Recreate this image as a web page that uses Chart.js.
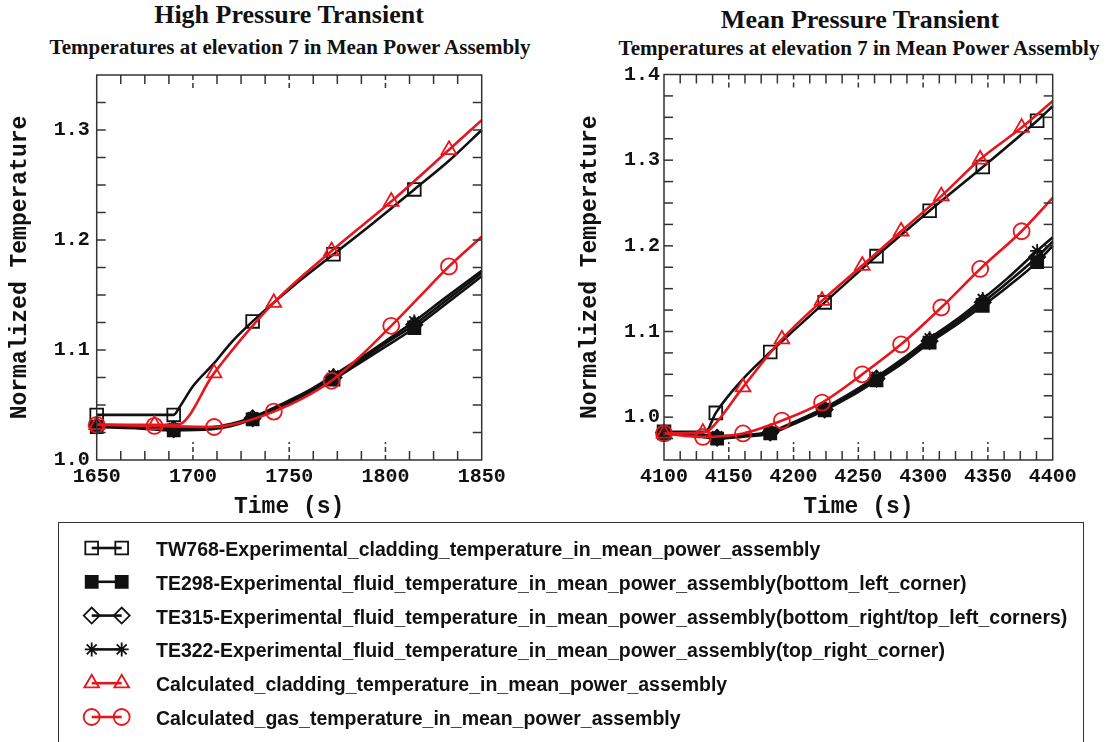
<!DOCTYPE html>
<html>
<head>
<meta charset="utf-8">
<script src="https://cdn.jsdelivr.net/npm/chart.js@4.4.1/dist/chart.umd.min.js"></script>
<style>
  body { margin: 0; background: #fff; width: 1116px; height: 742px; overflow: hidden; position: relative; }
  canvas { position: absolute; top: 0; }
  .ttl { position: absolute; font-family: "Liberation Serif", "Times New Roman", serif; font-weight: bold; color: #111; white-space: nowrap; transform: translate(-50%, -50%); }
  .big { font-size: 26px; }
  .sub { font-size: 21px; }
  #legend { position: absolute; left: 58px; top: 522px; width: 1026px; height: 240px; border: 1.5px solid #333; box-sizing: border-box; }
  .item { position: absolute; font: bold 19.5px "Liberation Sans", Arial, sans-serif; color: #111; white-space: nowrap; transform: translateY(-50%); }
</style>
</head>
<body>
<div class="ttl big" style="left:289px;top:15px">High Pressure Transient</div>
<div class="ttl sub" style="left:290px;top:47px">Temperatures at elevation 7 in Mean Power Assembly</div>
<div class="ttl big" style="left:860px;top:20px">Mean Pressure Transient</div>
<div class="ttl sub" style="left:859px;top:48px">Temperatures at elevation 7 in Mean Power Assembly</div>

<canvas id="hp" width="560" height="530" style="left:0"></canvas>
<canvas id="mp" width="556" height="530" style="left:560px"></canvas>
<div id="legend"></div>
<canvas id="legIcons" width="120" height="220" style="left:40px;top:522px"></canvas>

<script>
// ---- High pressure transient (left) ----
var hpTW768T = [1650, 1690, 1693, 1700, 1711, 1720, 1731, 1752, 1773, 1794, 1815, 1833, 1850];
var hpTW768V = [1.041, 1.041, 1.048, 1.067, 1.088, 1.107, 1.126, 1.158, 1.187, 1.216, 1.246, 1.272, 1.300];
var hpTW768Marks = [1650, 1690, 1731, 1773, 1815];

var hpFluidT = [1650, 1670, 1690, 1710, 1720, 1731, 1745, 1760, 1773, 1790, 1800, 1815, 1830, 1850];
var hpTE298V = [1.030, 1.029, 1.027, 1.028, 1.031, 1.037, 1.047, 1.060, 1.073, 1.092, 1.103, 1.120, 1.140, 1.167];
var hpTE315V = [1.031, 1.030, 1.028, 1.029, 1.032, 1.038, 1.048, 1.062, 1.075, 1.094, 1.106, 1.123, 1.143, 1.170];
var hpTE322V = [1.032, 1.031, 1.029, 1.030, 1.033, 1.039, 1.050, 1.063, 1.077, 1.096, 1.108, 1.126, 1.146, 1.172];
var hpFluidMarks = [1650, 1690, 1731, 1773, 1815];

var hpCladCalcT = [1650, 1680, 1692, 1711, 1742, 1772, 1803, 1833, 1850];
var hpCladCalcV = [1.032, 1.032, 1.032, 1.079, 1.143, 1.190, 1.235, 1.282, 1.309];
var hpGasCalcT = [1650, 1680, 1711, 1725, 1742, 1757, 1772, 1788, 1803, 1818, 1833, 1850];
var hpGasCalcV = [1.032, 1.031, 1.030, 1.034, 1.044, 1.056, 1.072, 1.096, 1.122, 1.149, 1.176, 1.203];
var hpCalcMarks = [1650, 1680, 1711, 1742, 1772, 1803, 1833];

// ---- Mean pressure transient (right) ----
var mpTW768T = [4100, 4132, 4140, 4160, 4182, 4200, 4224, 4264, 4305, 4346, 4388, 4400];
var mpTW768V = [0.983, 0.983, 1.005, 1.043, 1.076, 1.101, 1.134, 1.188, 1.241, 1.292, 1.346, 1.363];
var mpTW768Marks = [4100, 4140, 4182, 4224, 4264, 4305, 4346, 4388];

var mpFluidT = [4100, 4120, 4141, 4160, 4182, 4200, 4224, 4245, 4264, 4285, 4305, 4325, 4346, 4365, 4388, 4400];
var mpTE298V = [0.981, 0.979, 0.975, 0.977, 0.981, 0.992, 1.008, 1.025, 1.043, 1.064, 1.087, 1.107, 1.130, 1.152, 1.181, 1.200];
var mpTE315V = [0.982, 0.980, 0.976, 0.978, 0.982, 0.993, 1.009, 1.027, 1.045, 1.066, 1.089, 1.110, 1.134, 1.157, 1.187, 1.205];
var mpTE322V = [0.983, 0.981, 0.978, 0.979, 0.983, 0.994, 1.011, 1.029, 1.047, 1.069, 1.092, 1.113, 1.138, 1.162, 1.194, 1.210];
var mpFluidMarks = [4100, 4141, 4182, 4224, 4264, 4305, 4346, 4388];

var mpCladCalcT = [4100, 4130, 4135, 4161, 4191, 4222, 4253, 4283, 4314, 4344, 4376, 4400];
var mpCladCalcV = [0.981, 0.982, 0.985, 1.035, 1.091, 1.136, 1.177, 1.217, 1.258, 1.301, 1.338, 1.369];
var mpGasCalcT = [4100, 4130, 4161, 4191, 4222, 4253, 4283, 4314, 4344, 4376, 4400];
var mpGasCalcV = [0.981, 0.977, 0.981, 0.996, 1.017, 1.050, 1.085, 1.128, 1.173, 1.217, 1.256];
var mpCalcMarks = [4100, 4130, 4161, 4191, 4222, 4253, 4283, 4314, 4344, 4376];

var legendLabels = [
  'TW768-Experimental_cladding_temperature_in_mean_power_assembly',
  'TE298-Experimental_fluid_temperature_in_mean_power_assembly(bottom_left_corner)',
  'TE315-Experimental_fluid_temperature_in_mean_power_assembly(bottom_right/top_left_corners)',
  'TE322-Experimental_fluid_temperature_in_mean_power_assembly(top_right_corner)',
  'Calculated_cladding_temperature_in_mean_power_assembly',
  'Calculated_gas_temperature_in_mean_power_assembly'
];

var BLACK = '#111';
var RED = 'rgb(232,22,28)';
// marker styles, same order as legendLabels
var styles = [
  { color: BLACK, ps: 'rect', r: 9, filled: false, lw: 2.6, order: 2 },
  { color: BLACK, ps: 'rect', r: 8.5, filled: true, lw: 2.6, order: 2 },
  { color: BLACK, ps: 'rectRot', r: 8, filled: false, lw: 2.6, order: 2 },
  { color: BLACK, ps: 'star', r: 7, filled: false, lw: 2.6, order: 2 },
  { color: RED, ps: 'triangle', r: 8.5, filled: false, lw: 2.6, order: 0 },
  { color: RED, ps: 'circle', r: 8, filled: false, lw: 2.6, order: 0 }
];

var monoFont = '"Liberation Mono", "Courier New", monospace';

function makeSet(k, t, v, marks) {
  var st = styles[k];
  return {
    label: legendLabels[k],
    data: t.map(function (x, i) { return { x: x, y: v[i] }; }),
    borderColor: st.color,
    borderWidth: st.lw,
    pointStyle: st.ps,
    pointRadius: t.map(function (x) { return marks.indexOf(x) >= 0 ? st.r : 0; }),
    pointHoverRadius: 0,
    pointBorderColor: st.color,
    pointBackgroundColor: st.filled ? st.color : 'rgba(0,0,0,0)',
    pointBorderWidth: 1.8,
    cubicInterpolationMode: 'monotone',
    clip: false,
    order: st.order
  };
}

// box around the plot with inward ticks, dashed at the labelled x values
var framePlugin = {
  id: 'frame',
  afterDatasetsDraw: function (chart) {
    var ctx = chart.ctx, a = chart.chartArea, xs = chart.scales.x, ys = chart.scales.y;
    ctx.save();
    ctx.strokeStyle = '#333';
    ctx.lineWidth = 1.5;
    function seg(x1, y1, x2, y2) { ctx.beginPath(); ctx.moveTo(x1, y1); ctx.lineTo(x2, y2); ctx.stroke(); }
    xs.ticks.forEach(function (t) {
      var px = xs.getPixelForValue(t.value);
      if (px <= a.left + 1 || px >= a.right - 1) return;
      if (t.value % 50 === 0) {
        ctx.setLineDash([5, 3]);
        seg(px, a.bottom, px, a.bottom - 18);
        seg(px, a.top, px, a.top + 16);
        ctx.setLineDash([]);
      } else {
        seg(px, a.bottom, px, a.bottom - 9);
        seg(px, a.top, px, a.top + 9);
      }
    });
    ys.ticks.forEach(function (t) {
      var py = ys.getPixelForValue(t.value);
      if (py <= a.top + 1 || py >= a.bottom - 1) return;
      seg(a.left, py, a.left + 9, py);
      seg(a.right, py, a.right - 9, py);
    });
    ctx.strokeRect(a.left, a.top, a.right - a.left, a.bottom - a.top);
    ctx.restore();
  }
};

function makeChart(id, sets, xr, yr, lay) {
  return new Chart(document.getElementById(id), {
    type: 'line',
    data: { datasets: sets },
    options: {
      responsive: false,
      animation: false,
      events: [],
      layout: { padding: { left: 0, top: lay.top, right: lay.right, bottom: 0 } },
      plugins: { legend: { display: false }, tooltip: { enabled: false } },
      scales: {
        x: {
          type: 'linear', min: xr[0], max: xr[1],
          grid: { display: false, drawTicks: false },
          border: { display: false },
          ticks: {
            stepSize: 12.5, autoSkip: false, maxRotation: 0, padding: 5, color: '#111',
            font: { family: monoFont, size: 20, weight: 'bold' },
            callback: function (v) { return v % 50 === 0 ? String(v) : ''; }
          },
          title: {
            display: true, text: 'Time (s)', color: '#111',
            font: { family: monoFont, size: 23, weight: 'bold' },
            padding: { top: 0, bottom: 9 }
          },
          afterFit: function (s) { s.height = lay.xh; }
        },
        y: {
          min: yr[0], max: yr[1],
          grid: { display: false, drawTicks: false },
          border: { display: false },
          ticks: {
            stepSize: 0.025, autoSkip: false, padding: lay.yPad, color: '#111',
            font: { family: monoFont, size: 20, weight: 'bold' },
            callback: function (v) {
              var r = Math.round(v * 1000);
              return r % 100 === 0 ? (r / 1000).toFixed(1) : '';
            }
          },
          title: {
            display: true, text: 'Normalized Temperature', color: '#111',
            font: { family: monoFont, size: 23, weight: 'bold' },
            padding: { top: lay.titlePad, bottom: 0 }
          },
          afterFit: function (s) { s.width = lay.yw; }
        }
      }
    },
    plugins: [framePlugin]
  });
}

makeChart('hp', [
  makeSet(0, hpTW768T, hpTW768V, hpTW768Marks),
  makeSet(1, hpFluidT, hpTE298V, hpFluidMarks),
  makeSet(2, hpFluidT, hpTE315V, hpFluidMarks),
  makeSet(3, hpFluidT, hpTE322V, hpFluidMarks),
  makeSet(4, hpCladCalcT, hpCladCalcV, hpCalcMarks),
  makeSet(5, hpGasCalcT, hpGasCalcV, hpCalcMarks)
], [1650, 1850], [1.0, 1.35], { top: 75, right: 78.3, xh: 70, yw: 96.7, yPad: 7, titlePad: 6 });

makeChart('mp', [
  makeSet(0, mpTW768T, mpTW768V, mpTW768Marks),
  makeSet(1, mpFluidT, mpTE298V, mpFluidMarks),
  makeSet(2, mpFluidT, mpTE315V, mpFluidMarks),
  makeSet(3, mpFluidT, mpTE322V, mpFluidMarks),
  makeSet(4, mpCladCalcT, mpCladCalcV, mpCalcMarks),
  makeSet(5, mpGasCalcT, mpGasCalcV, mpCalcMarks)
], [4100, 4400], [0.95, 1.4], { top: 74.5, right: 63.3, xh: 70, yw: 104, yPad: 4, titlePad: 16 });

// legend: text as html, sample marks drawn with Chart.js point helper
var legend = document.getElementById('legend');
var ictx = document.getElementById('legIcons').getContext('2d');
legendLabels.forEach(function (txt, i) {
  var yc = 548 + i * 33.8;
  var el = document.createElement('div');
  el.className = 'item';
  el.style.left = (155 - 58) + 'px';
  el.style.top = (yc - 522) + 'px';
  el.textContent = txt;
  legend.appendChild(el);

  var st = styles[i], ly = yc - 522, x1 = 91.7 - 40, x2 = 121.7 - 40;
  ictx.strokeStyle = st.color;
  ictx.lineWidth = 2.6;
  ictx.beginPath(); ictx.moveTo(x1, ly); ictx.lineTo(x2, ly); ictx.stroke();
  ictx.fillStyle = st.filled ? st.color : 'rgba(0,0,0,0)';
  ictx.lineWidth = 1.8;
  [x1, x2].forEach(function (px) {
    Chart.helpers.drawPoint(ictx, { pointStyle: st.ps, radius: st.r, rotation: 0, borderWidth: 1.8 }, px, ly);
  });
});
</script>
</body>
</html>
